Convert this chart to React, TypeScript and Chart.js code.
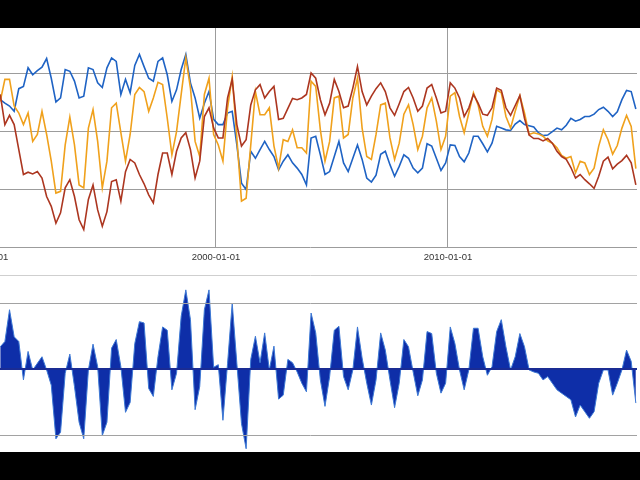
import React, { useEffect, useRef } from 'react';
import { Chart, registerables } from 'chart.js';

Chart.register(...registerables);

// sampled every 0.2 year from mid-1990
const startYear = 1990.7;
const stepYears = 0.2;
const tickYears = [1990, 2000, 2010];

const blueSeries = [
  25.4, 24.8, 24.3, 23.4, 27.3, 27.7, 30.9, 29.7, 30.4, 31.0,
  32.5, 29.1, 25.0, 25.7, 30.6, 30.3, 28.6, 25.7, 26.0, 30.9,
  30.6, 28.3, 27.5, 30.9, 32.6, 32.0, 26.3, 28.9, 26.6, 31.3,
  33.2, 31.1, 29.1, 28.6, 32.0, 32.6, 29.7, 25.1, 27.1, 30.6,
  33.2, 28.3, 25.7, 22.2, 24.8, 26.8, 22.0, 21.1, 21.1, 23.1,
  23.4, 17.6, 11.0, 9.9, 16.5, 15.3, 16.8, 18.2, 16.8, 15.6,
  13.3, 14.8, 15.9, 14.5, 13.6, 12.5, 10.7, 18.8, 19.1, 15.9,
  12.5, 13.0, 15.6, 18.2, 14.5, 13.0, 15.3, 17.6, 15.1, 11.9,
  11.2, 12.4, 16.0, 16.5, 14.2, 12.2, 13.9, 15.9, 15.3, 13.6,
  12.8, 13.6, 17.8, 17.4, 15.3, 13.2, 14.5, 17.6, 17.5, 15.6,
  14.7, 16.2, 19.1, 19.1, 17.8, 16.4, 17.9, 20.8, 20.5, 20.2,
  20.1, 21.2, 21.8, 21.1, 20.9, 20.7, 19.7, 19.2, 19.3, 19.9,
  20.5, 20.2, 21.0, 22.2, 21.7, 22.0, 22.5, 22.5, 22.9, 23.7,
  24.1, 23.4, 22.5, 23.3, 25.4, 27.0, 26.8, 23.8,
];

const orangeSeries = [
  25.1, 28.9, 28.9, 24.3, 23.1, 21.1, 23.1, 18.2, 19.4, 23.4,
  19.4, 14.8, 9.3, 9.6, 17.6, 22.4, 17.6, 10.7, 10.2, 20.5,
  23.7, 18.2, 10.2, 14.8, 24.0, 24.8, 19.7, 14.8, 19.4, 26.3,
  27.5, 26.8, 23.4, 25.7, 28.4, 28.0, 22.2, 15.9, 19.9, 26.3,
  32.6, 27.4, 18.2, 15.6, 26.3, 29.1, 19.4, 17.6, 14.8, 24.0,
  29.4, 18.8, 7.9, 8.4, 17.6, 26.8, 22.8, 22.8, 24.0, 17.4,
  13.6, 18.5, 18.2, 20.2, 17.1, 17.1, 16.2, 28.6, 27.7, 20.2,
  14.8, 18.2, 25.7, 26.0, 18.8, 19.4, 25.7, 29.1, 20.5, 15.6,
  15.1, 19.4, 24.5, 24.8, 18.8, 15.1, 17.9, 22.9, 24.5, 21.1,
  16.8, 19.1, 24.0, 25.7, 21.7, 16.8, 19.1, 26.0, 26.6, 22.5,
  19.7, 23.1, 26.6, 24.5, 20.8, 19.1, 22.0, 27.1, 26.6, 22.5,
  20.5, 23.4, 26.1, 23.1, 19.4, 19.7, 19.5, 19.1, 18.3, 17.9,
  17.1, 15.8, 15.3, 15.6, 12.8, 14.8, 14.5, 12.5, 13.6, 17.4,
  20.2, 18.5, 16.0, 17.5, 20.5, 22.7, 20.8, 13.5,
];

const redSeries = [
  26.3, 21.1, 22.7, 21.1, 16.8, 12.5, 12.9, 12.6, 13.0, 11.9,
  8.7, 7.0, 4.1, 5.9, 10.2, 11.6, 8.7, 4.7, 3.0, 8.2,
  10.7, 6.4, 3.6, 6.1, 11.3, 11.6, 7.9, 13.0, 15.1, 14.5,
  12.5, 10.9, 9.0, 7.6, 12.5, 16.2, 16.2, 12.5, 16.5, 18.8,
  19.7, 16.8, 11.9, 14.8, 22.5, 24.0, 20.5, 18.8, 18.8, 25.7,
  28.9, 21.1, 17.4, 18.5, 24.5, 27.1, 28.0, 25.7, 26.8, 27.7,
  22.0, 22.2, 23.9, 25.6, 25.4, 25.7, 26.3, 30.0, 29.1, 25.4,
  22.8, 24.8, 28.9, 26.8, 24.0, 24.3, 27.4, 31.1, 26.8, 24.5,
  26.0, 27.3, 28.3, 26.8, 24.0, 22.7, 24.7, 26.8, 27.5, 25.7,
  23.4, 24.3, 27.4, 28.0, 25.7, 23.1, 23.4, 28.3, 27.4, 25.7,
  22.5, 24.0, 26.3, 24.8, 22.9, 22.7, 24.0, 27.4, 27.0, 24.0,
  22.7, 24.4, 26.1, 22.2, 19.3, 18.7, 18.7, 18.3, 18.7, 17.9,
  16.5, 15.6, 15.1, 13.7, 11.9, 12.5, 11.6, 10.9, 10.1, 12.2,
  14.8, 15.5, 13.5, 14.3, 14.9, 15.8, 14.5, 10.7,
];

const spreadSeries = [
  3.4, 4.2, 9.0, 4.9, 4.2, -1.6, 2.7, -0.1, 0.9, 1.9,
  -0.1, -2.4, -10.5, -9.5, -0.6, 2.3, -2.6, -8.0, -10.5, -0.1,
  3.8, 0.4, -10.0, -8.0, 3.2, 4.5, 0.4, -6.5, -5.0, 3.9,
  7.2, 7.0, -2.9, -4.1, 1.9, 6.4, 5.9, -3.1, -0.6, 8.0,
  12.0, 7.5, -6.1, -2.6, 9.0, 12.0, 0.3, 0.7, -7.7, 0.9,
  10.0, 0.9, -8.2, -12.0, 1.5, 5.0, 1.0, 5.5, -0.1, 3.5,
  -4.5, -3.9, 1.5, 1.0, -0.4, -2.1, -3.4, 8.5, 5.5, -1.6,
  -5.6, -1.1, 5.9, 6.5, -1.1, -3.1, -0.1, 6.4, 1.7, -2.1,
  -5.4, -1.6, 5.5, 2.9, -1.6, -5.8, -2.1, 4.5, 3.4, -0.4,
  -4.0, -1.6, 5.7, 5.4, -0.6, -3.6, -2.1, 6.4, 3.9, -0.1,
  -3.1, -0.1, 6.2, 6.2, 1.9, -0.9, 0.4, 5.7, 7.5, 3.4,
  -0.1, 1.9, 5.4, 3.4, -0.1, -0.4, -0.6, -1.6, -1.1, -2.1,
  -3.1, -3.6, -4.1, -4.6, -7.2, -5.4, -6.4, -7.4, -6.4, -2.1,
  -0.1, -0.1, -3.9, -2.1, -0.1, 2.9, 1.2, -5.1,
];

const spreadTicks = [-10, 0, 10, 14.24];
const levelTicks = [0, 10, 20, 30];

const years = blueSeries.map((_, i) => +(startYear + i * stepYears).toFixed(2));
const toPoints = (vals: number[]) => vals.map((v, i) => ({ x: years[i], y: v }));

const xMin = 1990;
const xMax = 2018.15;

function TopChart() {
  const ref = useRef<HTMLCanvasElement>(null);
  useEffect(() => {
    if (!ref.current) return;
    const line = (data: number[], color: string) => ({
      data: toPoints(data),
      borderColor: color,
      borderWidth: 1.6,
      pointRadius: 0,
      tension: 0,
      fill: false,
    });
    const chart = new Chart(ref.current, {
      type: 'line',
      data: {
        datasets: [
          line(redSeries, '#ac3620'),
          line(orangeSeries, '#f0a11c'),
          line(blueSeries, '#1f63c4'),
        ],
      },
      options: {
        animation: false,
        responsive: false,
        layout: { padding: { left: 40, right: 0, top: 0, bottom: 0 } },
        plugins: { legend: { display: false }, tooltip: { enabled: false } },
        scales: {
          x: {
            type: 'linear',
            min: xMin,
            max: xMax,
            afterBuildTicks: (axis) => {
              axis.ticks = tickYears.map((v) => ({ value: v }));
            },
            afterFit: (axis) => {
              axis.height = 20;
            },
            ticks: {
              callback: (v) => `${v}-01-01`,
              color: '#333',
              font: { family: "'Liberation Sans', Arial, sans-serif", size: 9.5 },
              padding: 5,
              maxRotation: 0,
              autoSkip: false,
            },
            grid: { color: '#9c9c9c', drawTicks: false },
            border: { display: false },
          },
          y: {
            min: 0,
            max: 37.76,
            afterBuildTicks: (axis) => {
              axis.ticks = levelTicks.map((v) => ({ value: v }));
            },
            afterFit: (axis) => {
              axis.width = 0;
            },
            ticks: { display: false },
            grid: { color: '#9c9c9c', drawTicks: false },
            border: { display: false },
          },
        },
      },
    });
    return () => chart.destroy();
  }, []);
  return (
    <canvas
      ref={ref}
      width={693}
      height={239}
      style={{ position: 'absolute', left: -56, top: 28, width: 693, height: 239 }}
    />
  );
}

function SpreadChart() {
  const ref = useRef<HTMLCanvasElement>(null);
  useEffect(() => {
    if (!ref.current) return;
    const chart = new Chart(ref.current, {
      type: 'line',
      data: {
        datasets: [
          {
            data: toPoints(spreadSeries),
            borderColor: '#3c78d4',
            backgroundColor: '#0e2ea8',
            borderWidth: 1,
            pointRadius: 0,
            tension: 0,
            fill: 'origin',
          },
        ],
      },
      options: {
        animation: false,
        responsive: false,
        layout: { padding: 0 },
        plugins: { legend: { display: false }, tooltip: { enabled: false } },
        scales: {
          x: { type: 'linear', min: xMin, max: xMax, display: false },
          y: {
            min: -12.49,
            max: 15.0,
            afterBuildTicks: (axis) => {
              axis.ticks = spreadTicks.map((v) => ({ value: v }));
            },
            afterFit: (axis) => {
              axis.width = 0;
            },
            ticks: { display: false },
            grid: {
              drawTicks: false,
              z: 1,
              color: (ctx) =>
                ctx.tick.value === 0 ? '#1a2c94' : ctx.tick.value > 12 ? '#cfcfcf' : '#a2a2a2',
              lineWidth: (ctx) => (ctx.tick.value === 0 ? 2 : 1),
            },
            border: { display: false },
          },
        },
      },
    });
    return () => chart.destroy();
  }, []);
  return (
    <canvas
      ref={ref}
      width={653}
      height={182}
      style={{ position: 'absolute', left: -16, top: 270, width: 653, height: 182 }}
    />
  );
}

export default function App() {
  return (
    <div
      style={{
        position: 'fixed',
        left: 0,
        top: 0,
        width: 640,
        height: 480,
        background: '#000',
        overflow: 'hidden',
      }}
    >
      <div style={{ position: 'absolute', left: 0, top: 28, width: 640, height: 424, background: '#fff' }} />
      <TopChart />
      <SpreadChart />
    </div>
  );
}
